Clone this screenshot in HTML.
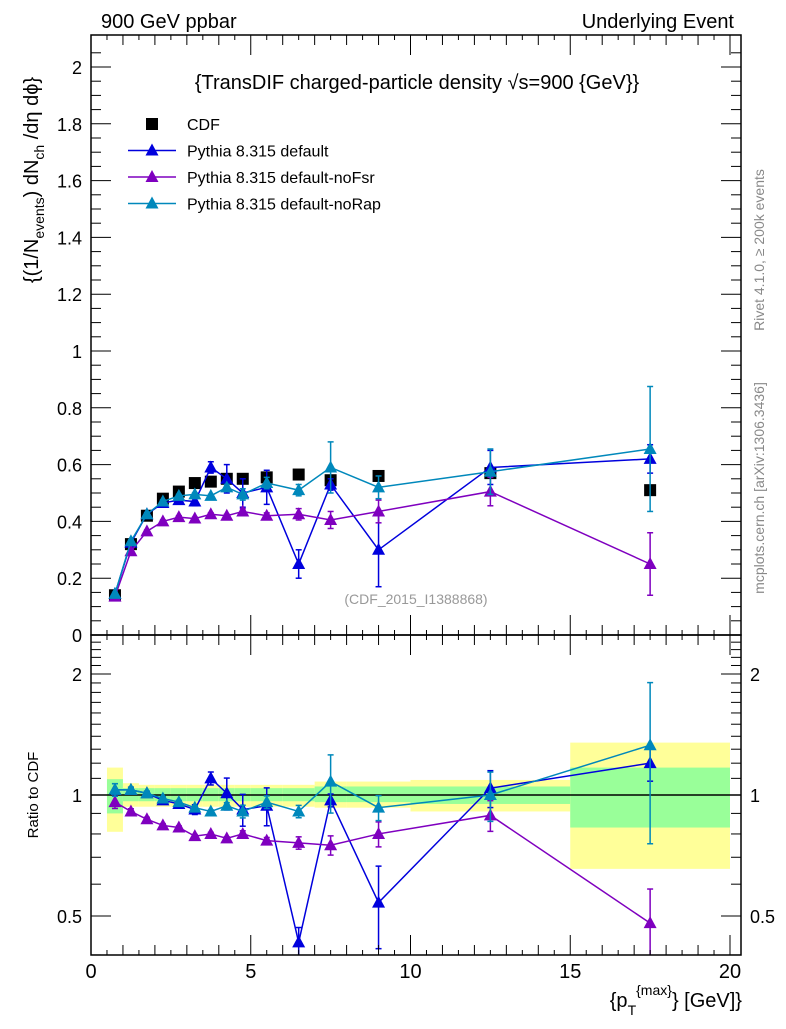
<!DOCTYPE html>
<html><head><meta charset="utf-8">
<style>
body{margin:0;background:#fff;font-family:"Liberation Sans",sans-serif;}
svg text{font-family:"Liberation Sans",sans-serif;}
</style></head>
<body>
<svg id="chart" width="786" height="1024" xmlns="http://www.w3.org/2000/svg">
<text x="101" y="28" font-size="20">900 GeV ppbar</text>
<text x="734" y="28" font-size="20" text-anchor="end">Underlying Event</text>
<text x="417" y="89" font-size="20" text-anchor="middle">{TransDIF charged-particle density √s=900 {GeV}}</text>
<text x="416" y="604" font-size="14" fill="#999" text-anchor="middle">(CDF_2015_I1388868)</text>
<text transform="translate(764,250) rotate(-90)" font-size="14" fill="#888" text-anchor="middle">Rivet 4.1.0, ≥ 200k events</text>
<text transform="translate(764,488) rotate(-90)" font-size="14" fill="#888" text-anchor="middle">mcplots.cern.ch [arXiv:1306.3436]</text>
<text transform="translate(38,180) rotate(-90)" font-size="20" text-anchor="middle">{(1/N<tspan font-size="14" dy="6">events</tspan><tspan dy="-6">) dN</tspan><tspan font-size="14" dy="6">ch</tspan><tspan dy="-6"> /dη  dϕ}</tspan></text>
<text transform="translate(38,795) rotate(-90)" font-size="15" text-anchor="middle">Ratio to CDF</text>
<text x="742" y="1007" font-size="20" text-anchor="end">{p<tspan font-size="14" dy="8">T</tspan><tspan font-size="14" dy="-20">{max}</tspan><tspan dy="12">} [GeV]}</tspan></text>
<g id="bands"></g>
<g id="main"></g>
<g id="ratio"></g>
<g id="axes"></g>
<g id="legend"></g>
</svg>
<script>
const xCenters=[0.75,1.25,1.75,2.25,2.75,3.25,3.75,4.25,4.75,5.5,6.5,7.5,9,12.5,17.5];
const binLo=[0.5,1,1.5,2,2.5,3,3.5,4,4.5,5,6,7,8,10,15];
const binHi=[1,1.5,2,2.5,3,3.5,4,4.5,5,6,7,8,10,15,20];
const cdfVals=[0.14,0.32,0.42,0.48,0.505,0.535,0.54,0.55,0.55,0.555,0.565,0.545,0.56,0.57,0.51];
const defVals=[0.145,0.325,0.425,0.465,0.475,0.47,0.59,0.55,0.50,0.52,0.25,0.53,0.30,0.59,0.62];
const defErr=[0.005,0.005,0.005,0.01,0.01,0.015,0.02,0.05,0.05,0.06,0.05,0.02,0.13,0.06,0.05];
const nofsrVals=[0.135,0.295,0.365,0.40,0.415,0.41,0.425,0.42,0.435,0.42,0.425,0.405,0.435,0.505,0.25];
const nofsrErr=[0.005,0.005,0.005,0.005,0.005,0.005,0.005,0.005,0.01,0.01,0.02,0.03,0.04,0.05,0.11];
const norapVals=[0.145,0.33,0.425,0.47,0.49,0.495,0.49,0.52,0.495,0.535,0.51,0.59,0.52,0.575,0.655];
const norapErr=[0.005,0.005,0.005,0.005,0.005,0.005,0.005,0.01,0.02,0.02,0.02,0.09,0.04,0.08,0.22];
const defRatio=[1.03,1.03,1.01,0.97,0.95,0.92,1.1,1.01,0.92,0.94,0.43,0.97,0.54,1.04,1.2];
const nofsrRatio=[0.96,0.91,0.87,0.84,0.83,0.79,0.8,0.78,0.8,0.77,0.76,0.75,0.8,0.89,0.48];
const norapRatio=[1.03,1.03,1.01,0.98,0.96,0.93,0.91,0.94,0.91,0.96,0.91,1.08,0.93,1.0,1.33];
const yellowLo=[0.81,0.935,0.935,0.935,0.935,0.935,0.935,0.935,0.935,0.935,0.935,0.93,0.93,0.91,0.655];
const yellowHi=[1.17,1.07,1.06,1.06,1.06,1.06,1.06,1.06,1.06,1.06,1.06,1.08,1.08,1.09,1.35];
const greenLo=[0.90,0.965,0.965,0.965,0.965,0.965,0.965,0.965,0.965,0.965,0.965,0.96,0.96,0.95,0.83];
const greenHi=[1.095,1.04,1.04,1.04,1.04,1.04,1.04,1.04,1.04,1.04,1.04,1.05,1.05,1.05,1.17];
const xTicks=[0,5,10,15,20];
const yTicks=[0,0.2,0.4,0.6,0.8,1,1.2,1.4,1.6,1.8,2];
const rTicks=[0.5,1,2];

const NS="http://www.w3.org/2000/svg";
const X=v=>91+v*31.95;
const Y=v=>635-v*284;
const R=v=>795-121*Math.log2(v);
function mk(p,tag,a){const e=document.createElementNS(NS,tag);for(const k in a)e.setAttribute(k,a[k]);p.appendChild(e);return e;}
const bands=document.getElementById('bands'),main=document.getElementById('main'),ratio=document.getElementById('ratio'),axes=document.getElementById('axes'),legend=document.getElementById('legend');

for(let i=0;i<binLo.length;i++){
 const yb=mk(bands,'rect',{x:X(binLo[i]),y:R(yellowHi[i]),width:X(binHi[i])-X(binLo[i]),height:R(yellowLo[i])-R(yellowHi[i]),fill:'#ffff99'});
 
 
 const gb=mk(bands,'rect',{x:X(binLo[i]),y:R(greenHi[i]),width:X(binHi[i])-X(binLo[i]),height:R(greenLo[i])-R(greenHi[i]),fill:'#99ff99'});
 
 
}
const one=mk(ratio,'line',{x1:91,x2:741,y1:R(1),y2:R(1),stroke:'#000','stroke-width':1.5});



function tri(g,x,y,c){return mk(g,'polygon',{points:`${x},${y-7} ${x-6.5},${y+5} ${x+6.5},${y+5}`,fill:c});}
function series(g,vals,errs,fy,c,name,clip){
 const pts=vals.map((v,i)=>`${X(xCenters[i])},${fy(v)}`).join(' ');
 const pl=mk(g,'polyline',{points:pts,fill:'none',stroke:c,'stroke-width':1.5});
 
 
 vals.forEach((v,i)=>{
  const x=X(xCenters[i]);
  if(errs){
   let lo=fy(v-errs[i]*(clip?v:1)),hi=fy(v+errs[i]*(clip?v:1));
   if(lo>955)lo=955;
   mk(g,'line',{x1:x,x2:x,y1:hi,y2:lo,stroke:c,'stroke-width':1.5});
   mk(g,'line',{x1:x-3,x2:x+3,y1:hi,y2:hi,stroke:c,'stroke-width':1.5});
   if(lo<955)mk(g,'line',{x1:x-3,x2:x+3,y1:lo,y2:lo,stroke:c,'stroke-width':1.5});
  }
  const t=tri(g,x,fy(v),c);
  
  
 });
}
const cDef='#0000dd',cFsr='#7f00bf',cRap='#0088bb';
cdfVals.forEach((v,i)=>{
 const r=mk(main,'rect',{x:X(xCenters[i])-6,y:Y(v)-6,width:12,height:12,fill:'#000'});
 
 
});
series(main,defVals,defErr,Y,cDef,'pythia-default',false);
series(main,nofsrVals,nofsrErr,Y,cFsr,'pythia-nofsr',false);
series(main,norapVals,norapErr,Y,cRap,'pythia-norap',false);
series(ratio,defRatio,defErr.map((e,i)=>e/cdfVals[i]),R,cDef,'ratio-default',true);
series(ratio,nofsrRatio,nofsrErr.map((e,i)=>e/cdfVals[i]),R,cFsr,'ratio-nofsr',true);
series(ratio,norapRatio,norapErr.map((e,i)=>e/cdfVals[i]),R,cRap,'ratio-norap',true);

const f1=mk(axes,'rect',{x:91,y:35,width:650,height:600,fill:'none',stroke:'#000','stroke-width':1.5});


const f2=mk(axes,'rect',{x:91,y:635,width:650,height:320,fill:'none',stroke:'#000','stroke-width':1.5});


for(let v=0;v<=20.01;v+=0.5){
 const x=X(v),big=Math.abs(v-Math.round(v/5)*5)<1e-6,mid=Math.abs(v-Math.round(v))<1e-6;
 const L=big?20:(mid?10:5);
 [[635,-1],[955,-1],[35,1],[635,1]].forEach(([y0,d])=>mk(axes,'line',{x1:x,x2:x,y1:y0,y2:y0+d*L,stroke:'#000'}));
}
xTicks.forEach(v=>{const t=mk(axes,'text',{x:X(v),y:978,'font-size':20,'text-anchor':'middle'});t.textContent=v;
 });
for(let v=0;v<=2.1;v+=0.05){
 const y=Y(v);if(y<35)break;
 const big=Math.abs(v*5-Math.round(v*5))<1e-6;const L=big?20:10;
 mk(axes,'line',{x1:91,x2:91+L,y1:y,y2:y,stroke:'#000'});
 mk(axes,'line',{x1:741,x2:741-L,y1:y,y2:y,stroke:'#000'});
}
yTicks.forEach(v=>{const t=mk(axes,'text',{x:82,y:Y(v)+7,'font-size':18,'text-anchor':'end'});t.textContent=+v.toFixed(1);
 });
for(let v=0.4;v<=2.5;v+=0.1){
 const y=R(v);if(y<635||y>955)continue;
 const big=rTicks.some(t=>Math.abs(t-v)<1e-6);const L=big?20:10;
 mk(axes,'line',{x1:91,x2:91+L,y1:y,y2:y,stroke:'#000'});
 mk(axes,'line',{x1:741,x2:741-L,y1:y,y2:y,stroke:'#000'});
}
rTicks.forEach(v=>{
 const t=mk(axes,'text',{x:82,y:R(v)+7,'font-size':18,'text-anchor':'end'});t.textContent=v;
 
 const t2=mk(axes,'text',{x:750,y:R(v)+7,'font-size':18});t2.textContent=v;
 
});
const leg=[['CDF','#000','sq'],['Pythia 8.315 default',cDef,'t'],['Pythia 8.315 default-noFsr',cFsr,'t'],['Pythia 8.315 default-noRap',cRap,'t']];
leg.forEach((l,i)=>{
 const y=124+i*26.5;
 const g=mk(legend,'g',{});
 
 
 if(l[2]==='sq')mk(g,'rect',{x:146,y:y-6,width:12,height:12,fill:'#000'});
 else{mk(g,'line',{x1:128,x2:176,y1:y,y2:y,stroke:l[1],'stroke-width':1.5});tri(g,152,y,l[1]);}
 const t=mk(g,'text',{x:187,y:y+6,'font-size':16});t.textContent=l[0];
});
</script>
</body></html>
